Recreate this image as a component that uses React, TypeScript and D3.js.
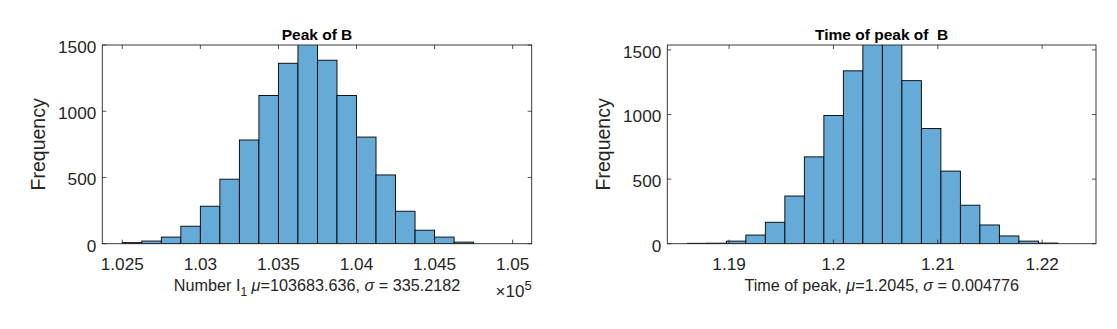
import React from 'react';
import * as d3 from 'd3';

// histogram counts
const peakCounts = [8, 20, 50, 132, 283, 487, 783, 1119, 1362, 1510, 1385, 1119, 805, 519, 245, 102, 50, 12];
const peakBinStart = 102500;
const peakBinWidth = 125;
const peakXTicks = [102500, 103000, 103500, 104000, 104500, 105000];
const peakXTickLabels = ['1.025', '1.03', '1.035', '1.04', '1.045', '1.05'];

const timeCounts = [3, 4, 20, 67, 166, 369, 672, 992, 1338, 1565, 1555, 1262, 892, 562, 298, 145, 60, 20, 5];
const timeBinStart = 1.186;
const timeBinWidth = 0.001869;
const timeXTicks = [1.19, 1.2, 1.21, 1.22];
const timeXTickLabels = ['1.19', '1.2', '1.21', '1.22'];

const yTicks = [0, 500, 1000, 1500];
const yTickLabels = ['0', '500', '1000', '1500'];

const FONT = "'Liberation Sans', Arial, Helvetica, sans-serif";
const AXIS = '#262626';
const BAR = '#66aad7';

type PanelProps = {
  id: string;
  x0: number;
  x1: number;
  xDomain: [number, number];
  yMax: number;
  counts: number[];
  binStart: number;
  binWidth: number;
  xTicks: number[];
  xTickLabels: string[];
  title: string;
  xlabel: React.ReactNode;
  exponent?: string;
};

const TOP = 45;
const BOTTOM = 243.7;
const TICK = 4;
const TICK_FONT = 17.2;

function Panel(p: PanelProps) {
  const x = d3.scaleLinear().domain(p.xDomain).range([p.x0, p.x1]);
  const y = d3.scaleLinear().domain([0, p.yMax]).range([BOTTOM, TOP]);
  const bins = p.counts.map((c, i) => ({
    lo: p.binStart + i * p.binWidth,
    hi: p.binStart + (i + 1) * p.binWidth,
    c,
  }));
  const cx = (p.x0 + p.x1) / 2;
  return (
    <g fontFamily={FONT}>
      <defs>
        <clipPath id={p.id}>
          <rect x={p.x0} y={TOP} width={p.x1 - p.x0} height={BOTTOM - TOP} />
        </clipPath>
      </defs>
      <g clipPath={`url(#${p.id})`}>
        {bins.map((b, i) => (
          <rect
            key={i}
            x={x(b.lo)}
            y={y(b.c)}
            width={x(b.hi) - x(b.lo)}
            height={y(0) - y(b.c)}
            fill={BAR}
            stroke="#000"
            strokeWidth={0.9}
          />
        ))}
      </g>
      {/* ticks, inward on all four sides */}
      {p.xTicks.map((t, i) => (
        <g key={'x' + i}>
          <line x1={x(t)} x2={x(t)} y1={BOTTOM} y2={BOTTOM - TICK} stroke={AXIS} strokeWidth={0.8} />
          <line x1={x(t)} x2={x(t)} y1={TOP} y2={TOP + TICK} stroke={AXIS} strokeWidth={0.8} />
          <text x={x(t)} y={269.5} textAnchor="middle" fontSize={TICK_FONT} fill={AXIS}>
            {p.xTickLabels[i]}
          </text>
        </g>
      ))}
      {yTicks.map((t, i) => (
        <g key={'y' + i}>
          <line x1={p.x0} x2={p.x0 + TICK} y1={y(t)} y2={y(t)} stroke={AXIS} strokeWidth={0.8} />
          <line x1={p.x1} x2={p.x1 - TICK} y1={y(t)} y2={y(t)} stroke={AXIS} strokeWidth={0.8} />
          <text x={p.x0 - 6} y={y(t) + 7.8} textAnchor="end" fontSize={TICK_FONT} fill={AXIS}>
            {yTickLabels[i]}
          </text>
        </g>
      ))}
      <rect x={p.x0} y={TOP} width={p.x1 - p.x0} height={BOTTOM - TOP} fill="none" stroke={AXIS} strokeWidth={0.9} />
      <text x={cx} y={40} textAnchor="middle" fontSize={15.5} fontWeight="bold" fill="#000" style={{ whiteSpace: 'pre' }}>
        {p.title}
      </text>
      <text
        transform={`translate(${p.x0 - 57.5},${(TOP + BOTTOM) / 2}) rotate(-90)`}
        textAnchor="middle"
        fontSize={19.5}
        fill={AXIS}
      >
        Frequency
      </text>
      <text x={cx} y={291} textAnchor="middle" fontSize={16.2} fill={AXIS}>
        {p.xlabel}
      </text>
      {p.exponent && (
        <text x={p.x1} y={296.5} textAnchor="end" fontSize={17} fill={AXIS}>
          {'\u00d710'}
          <tspan dy={-7} fontSize={13}>
            {p.exponent}
          </tspan>
        </text>
      )}
    </g>
  );
}

export default function App() {
  return (
    <svg
      width={1117}
      height={329}
      style={{ position: 'absolute', left: 0, top: 0, background: '#fff' }}
    >
      <rect width={1117} height={329} fill="#fff" />
      <Panel
        id="clipPeak"
        x0={102.3}
        x1={531.7}
        xDomain={[102372, 105122]}
        yMax={1500}
        counts={peakCounts}
        binStart={peakBinStart}
        binWidth={peakBinWidth}
        xTicks={peakXTicks}
        xTickLabels={peakXTickLabels}
        title="Peak of B"
        exponent="5"
        xlabel={
          <>
            Number I
            <tspan dy={5} fontSize={12}>1</tspan>
            <tspan dy={-5}> </tspan>
            <tspan fontStyle="italic">{'\u03bc'}</tspan>
            =103683.636, <tspan fontStyle="italic">{'\u03c3'}</tspan> = 335.2182
          </>
        }
      />
      <Panel
        id="clipTime"
        x0={667.3}
        x1={1096}
        xDomain={[1.18408, 1.22516]}
        yMax={1538}
        counts={timeCounts}
        binStart={timeBinStart}
        binWidth={timeBinWidth}
        xTicks={timeXTicks}
        xTickLabels={timeXTickLabels}
        title={'Time of peak of  B'}
        xlabel={
          <>
            Time of peak, <tspan fontStyle="italic">{'\u03bc'}</tspan>=1.2045,{' '}
            <tspan fontStyle="italic">{'\u03c3'}</tspan> = 0.004776
          </>
        }
      />
    </svg>
  );
}
